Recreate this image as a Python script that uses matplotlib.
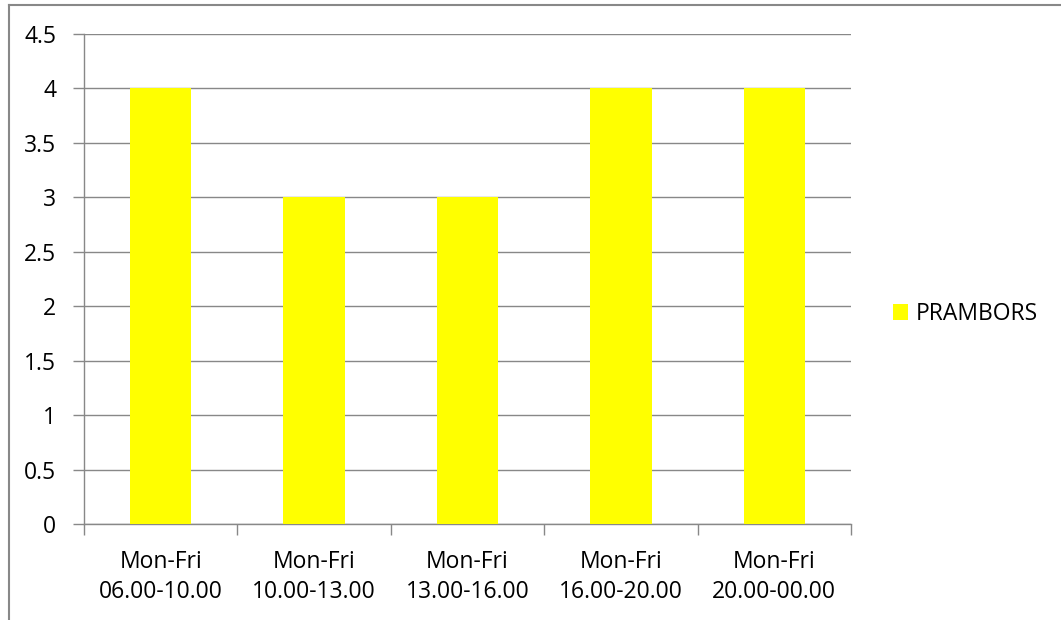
import matplotlib
matplotlib.use("Agg")
from matplotlib import pyplot as plt

categories = ["Mon-Fri\n06.00-10.00", "Mon-Fri\n10.00-13.00", "Mon-Fri\n13.00-16.00",
              "Mon-Fri\n16.00-20.00", "Mon-Fri\n20.00-00.00"]
values = [4, 3, 3, 4, 4]
series_name = "PRAMBORS"
yticks = [0, 0.5, 1, 1.5, 2, 2.5, 3, 3.5, 4, 4.5]
ytick_labels = ["0", "0.5", "1", "1.5", "2", "2.5", "3", "3.5", "4", "4.5"]

plt.rcParams['font.family'] = ['Open Sans', 'DejaVu Sans']
W, H = 1061, 620
fs = 16.5
fig = plt.figure(figsize=(W / 100, H / 100), dpi=100)

# outer chart border (left and top visible in crop)
fig.add_artist(plt.Line2D([9 / W, 9 / W], [0, 1 - 5 / H], color='#888888', lw=1.5))
fig.add_artist(plt.Line2D([9 / W, 1], [1 - 5 / H, 1 - 5 / H], color='#888888', lw=1.5))

left, right, top, bottom = 84, 851, 34, 524
ax = fig.add_axes([left / W, 1 - bottom / H, (right - left) / W, (bottom - top) / H])

x = list(range(len(values)))
ax.bar(x, values, width=0.4, color='#FFFF00', zorder=3, label=series_name)
ax.set_xlim(-0.5, len(values) - 0.5)
ax.set_ylim(0, 4.5)

ax.set_yticks(yticks)
ax.set_yticklabels(ytick_labels, fontsize=fs)
ax.yaxis.grid(True, color='#888888', lw=1, zorder=0)
ax.set_axisbelow(True)

ax.set_xticks(x)
ax.set_xticklabels(categories, fontsize=fs, linespacing=1.3)
ax.tick_params(axis='x', length=0, pad=19)
ax.set_xticks([i - 0.5 for i in range(len(values) + 1)], minor=True)
ax.tick_params(axis='x', which='minor', length=8, color='#888888', width=1)
ax.tick_params(axis='y', length=8, color='#888888', width=1, pad=12)

for s in ['top', 'right']:
    ax.spines[s].set_visible(False)
for s in ['left', 'bottom']:
    ax.spines[s].set_color('#888888')
    ax.spines[s].set_linewidth(1)

ax.legend(loc='center left', bbox_to_anchor=(893 / W, 1 - 314 / H), bbox_transform=fig.transFigure,
          frameon=False, fontsize=fs, handlelength=0.65, handleheight=0.65, handletextpad=0.35,
          borderpad=0, borderaxespad=0)

fig.savefig("out.png", dpi=100, facecolor='white')
